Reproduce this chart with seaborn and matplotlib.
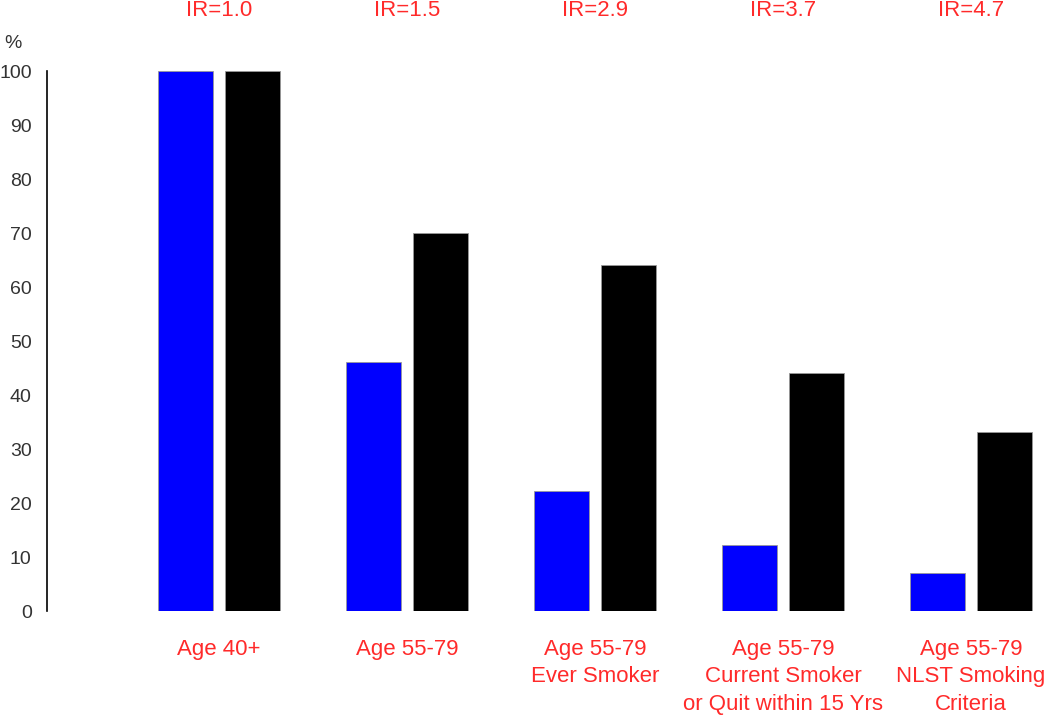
import matplotlib.pyplot as plt
import pandas as pd
import seaborn as sns

categories = [
    "Age 40+",
    "Age 55-79",
    "Age 55-79\nEver Smoker",
    "Age 55-79\nCurrent Smoker\nor Quit within 15 Yrs",
    "Age 55-79\nNLST Smoking\nCriteria",
]
population_pct = [100, 46.1, 22.2, 12.2, 7.0]
cancer_pct = [100, 70.0, 64.1, 44.1, 33.1]
ir_labels = ["IR=1.0", "IR=1.5", "IR=2.9", "IR=3.7", "IR=4.7"]
y_ticks = list(range(0, 101, 10))

RED = "#ff2a2a"
TEXT_GRAY = "#333333"

df = pd.DataFrame(
    {
        "category": categories * 2,
        "percent": population_pct + cancer_pct,
        "series": ["population"] * len(categories) + ["cancers"] * len(categories),
    }
)

sns.set_theme(style="white")
plt.rcParams["font.family"] = ["Liberation Sans", "DejaVu Sans"]

fig = plt.figure(figsize=(10.5, 7.17), dpi=100)
ax = fig.add_axes([47 / 1050, 106 / 717, 1003 / 1050, 540 / 717])

sns.barplot(
    data=df,
    x="category",
    y="percent",
    hue="series",
    order=categories,
    hue_order=["population", "cancers"],
    palette={"population": "#0000ff", "cancers": "#000000"},
    saturation=1,
    width=0.71,
    gap=0.18,
    edgecolor="#999999",
    linewidth=0.6,
    legend=False,
    ax=ax,
)

ax.set_xlim(-0.915, 4.42)
ax.set_ylim(0, 100)
ax.set_yticks(y_ticks)
ax.set_xlabel("")
ax.set_ylabel("")
ax.tick_params(axis="y", length=0, pad=11, labelsize=14, labelcolor=TEXT_GRAY)
ax.tick_params(axis="x", length=0, pad=20, labelsize=16, labelcolor=RED)
for lbl in ax.get_xticklabels():
    lbl.set_linespacing(1.42)
    lbl.set_verticalalignment("top")

for side in ["top", "right", "bottom"]:
    ax.spines[side].set_visible(False)
ax.spines["left"].set_color("black")
ax.spines["left"].set_linewidth(1.2)

for i, txt in enumerate(ir_labels):
    ax.text(i, 1.0 + 61 / 540, txt, transform=ax.get_xaxis_transform(),
            ha="center", va="center", color=RED, fontsize=16)

fig.text(4 / 1050, 1 - 43 / 717, "%", ha="left", va="center", color=TEXT_GRAY, fontsize=14)

fig.savefig("out.png", dpi=100)
plt.close(fig)
